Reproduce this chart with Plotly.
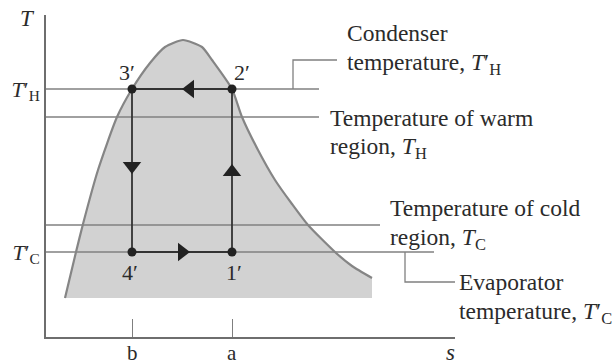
import plotly.graph_objects as go

# ---- data (s, T in arbitrary diagram units) ----
dome_s = [19, 30, 37, 52, 71, 86, 104, 119, 137,
          156, 166, 186, 196, 212, 229, 246, 262, 289, 306, 326]
dome_T = [39, 85, 113, 167, 220, 248, 274, 290, 297,
          290, 277, 248, 220, 187, 157, 133, 112, 85, 71, 59]
dome_base_T = 39

cycle_s = [186, 86, 86, 186]
cycle_T = [248, 248, 85, 85]
cycle_labels = ["2′", "3′", "4′", "1′"]

level_T = [248, 220, 112, 85]          # T'_H, T_H, T_C, T'_C
level_end_s = [273, 273, 334, 388]

s_tick_vals = [86, 186]
s_tick_text = ["b", "a"]
T_tick_vals = [248, 85]
T_tick_text = ["<i>T</i>′<sub>H</sub>", "<i>T</i>′<sub>C</sub>"]

arrow_s = [144, 86, 186, 136]
arrow_T = [248, 171, 165, 85]
arrow_symbols = ["triangle-left", "triangle-down", "triangle-up", "triangle-right"]

cond_bracket_s = [247, 247, 291]
cond_bracket_T = [248, 277, 277]
evap_bracket_s = [359, 359, 409]
evap_bracket_T = [85, 55, 55]

note_lines = [
    "Condenser", "temperature, <i>T</i>′<sub>H</sub>",
    "Temperature of warm", "region, <i>T</i><sub>H</sub>",
    "Temperature of cold", "region, <i>T</i><sub>C</sub>",
    "Evaporator", "temperature, <i>T</i>′<sub>C</sub>",
]
note_s = [299, 299, 282, 282, 342, 342, 411, 411]
note_T = [304, 275, 219, 191, 129, 100, 55, 26]

S_MAX, T_MAX = 409, 322
FONT = "Liberation Serif, Times New Roman, serif"
TXT = "#2b2b2b"
LINE_GRAY = "#808080"

fig = go.Figure()

# dome fill (between base line and saturation curve)
fig.add_trace(go.Scatter(x=[dome_s[0], dome_s[-1]], y=[dome_base_T, dome_base_T], mode="lines",
                         line=dict(width=0), hoverinfo="skip", showlegend=False))
fig.add_trace(go.Scatter(x=dome_s, y=dome_T, mode="lines", fill="tonexty",
                         fillcolor="#d2d2d2", line=dict(width=0, shape="spline", smoothing=0.6),
                         hoverinfo="skip", showlegend=False))

# reference temperature lines
for t, e in zip(level_T, level_end_s):
    fig.add_trace(go.Scatter(x=[0, e], y=[t, t], mode="lines",
                             line=dict(color=LINE_GRAY, width=1.3),
                             hoverinfo="skip", showlegend=False, cliponaxis=False))
for bs, bt in [(cond_bracket_s, cond_bracket_T), (evap_bracket_s, evap_bracket_T)]:
    fig.add_trace(go.Scatter(x=bs, y=bt, mode="lines",
                             line=dict(color=LINE_GRAY, width=1.3),
                             hoverinfo="skip", showlegend=False, cliponaxis=False))

# dome outline
fig.add_trace(go.Scatter(x=dome_s, y=dome_T, mode="lines",
                         line=dict(color="#858585", width=2.2, shape="spline", smoothing=0.6),
                         hoverinfo="skip", showlegend=False))

# cycle
fig.add_trace(go.Scatter(x=cycle_s + [cycle_s[0]], y=cycle_T + [cycle_T[0]], mode="lines",
                         line=dict(color="#333333", width=1.8),
                         hoverinfo="skip", showlegend=False))
fig.add_trace(go.Scatter(x=arrow_s, y=arrow_T, mode="markers",
                         marker=dict(symbol=arrow_symbols, size=16, color="#222222"),
                         hoverinfo="skip", showlegend=False))
fig.add_trace(go.Scatter(x=cycle_s, y=cycle_T, mode="markers",
                         marker=dict(size=9, color="#222222"),
                         hoverinfo="skip", showlegend=False))

# point labels
label_shift = [(10, 17), (-5, 17), (-2, -20), (2, -20)]
for s, t, lab, (dx, dy) in zip(cycle_s, cycle_T, cycle_labels, label_shift):
    fig.add_annotation(x=s, y=t, text=lab, showarrow=False, xanchor="center", yanchor="middle",
                       xshift=dx, yshift=dy, font=dict(family=FONT, size=22, color=TXT))

# side texts (anchors beyond the s range are clamped and shifted in pixels)
for s, t, txt in zip(note_s, note_T, note_lines):
    sx = min(s, S_MAX)
    fig.add_annotation(x=sx, y=t, text=txt, showarrow=False, xanchor="left", yanchor="middle",
                       xshift=(s - sx), yshift=-2 if "<sub>" in txt else 0, align="left",
                       font=dict(family=FONT, size=23.5, color=TXT))

# s-axis tick labels
for s, lab in zip(s_tick_vals, s_tick_text):
    fig.add_annotation(x=s, y=0, text=lab, showarrow=False, xanchor="center", yanchor="middle",
                       yshift=-16, borderpad=0, font=dict(family=FONT, size=21, color=TXT))

# axis titles
fig.add_annotation(x=0, y=T_MAX, text="<i>T</i>", showarrow=False, xanchor="right", yanchor="middle",
                   xshift=-9, yshift=-3, font=dict(family=FONT, size=23, color=TXT))
fig.add_annotation(x=S_MAX, y=0, text="<i>s</i>", showarrow=False, xanchor="center", yanchor="middle",
                   xshift=-5, yshift=-15, font=dict(family=FONT, size=23, color=TXT))

fig.update_xaxes(range=[0, S_MAX], showgrid=False, zeroline=False, showline=True, automargin=False,
                 linecolor="#6e6e6e", linewidth=1.6, tickvals=s_tick_vals, showticklabels=False,
                 ticks="inside", ticklen=18, tickwidth=1.3, tickcolor="#7f7f7f")
fig.update_yaxes(range=[0, T_MAX], showgrid=False, zeroline=False, showline=True, automargin=False,
                 linecolor="#6e6e6e", linewidth=1.6, tickvals=T_tick_vals, ticktext=T_tick_text,
                 ticks="", tickfont=dict(family=FONT, size=22, color=TXT))

fig.update_layout(width=614, height=364, margin=dict(l=46, r=159, t=15, b=27),
                  plot_bgcolor="white", paper_bgcolor="white", showlegend=False)

fig.write_html("out.html")
